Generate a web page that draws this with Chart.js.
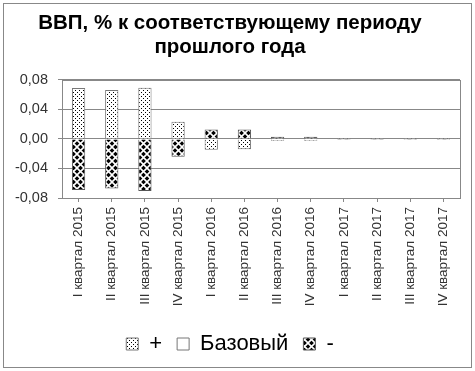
<!DOCTYPE html>
<html>
<head>
<meta charset="utf-8">
<script src="https://cdn.jsdelivr.net/npm/chart.js@4"></script>
<style>
  body { margin: 0; background: #fff; }
</style>
</head>
<body>
<canvas id="gdp-chart" width="475" height="371"></canvas>
<script>
// DATA
const categories = [
  "I квартал 2015", "II квартал 2015", "III квартал 2015", "IV квартал 2015",
  "I квартал 2016", "II квартал 2016", "III квартал 2016", "IV квартал 2016",
  "I квартал 2017", "II квартал 2017", "III квартал 2017", "IV квартал 2017"
];
const plusValues = [0.069, 0.0665, 0.0695, 0.0235, -0.0145, -0.014, -0.0025, -0.0025, 0.0015, 0.0015, 0.0015, 0.0015];
const baseValues = [0, 0, 0, 0, 0, 0, 0, 0, 0, 0, 0, 0];
const minusValues = [-0.069, -0.067, -0.0705, -0.024, 0.013, 0.013, 0.003, 0.003, -0.0015, -0.0015, -0.0015, -0.0015];
const yTicks = [-0.08, -0.04, 0, 0.04, 0.08];

const FONT = "'Liberation Sans', Arial, sans-serif";
const GREY = "#888";

// pattern fills (Excel-like hatching)
function makePattern(kind) {
  const c = document.createElement("canvas");
  const g = c.getContext("2d");
  if (kind === "dots") {
    c.width = 4; c.height = 4;
    g.fillStyle = "#fff";
    g.fillRect(0, 0, 4, 4);
    g.fillStyle = "#000";
    g.fillRect(1, 0, 1, 1);
    g.fillRect(3, 2, 1, 1);
  } else {
    c.width = 7; c.height = 7;
    g.fillStyle = "#000";
    g.fillRect(0, 0, 7, 7);
    g.strokeStyle = "#fff";
    g.lineWidth = 1.6;
    g.beginPath();
    g.moveTo(0, 0); g.lineTo(7, 7);
    g.moveTo(7, 0); g.lineTo(0, 7);
    g.stroke();
  }
  return g.createPattern(c, "repeat");
}

const dotFill = makePattern("dots");
const crossFill = makePattern("cross");

// white page + outer frame + plot frame
const frames = {
  id: "frames",
  beforeDraw(chart) {
    const ctx = chart.ctx;
    ctx.save();
    ctx.fillStyle = "#fff";
    ctx.fillRect(0, 0, chart.width, chart.height);
    ctx.strokeStyle = GREY;
    ctx.lineWidth = 1;
    ctx.strokeRect(3.5, 3.5, chart.width - 7, chart.height - 7);
    ctx.restore();
  },
  beforeDatasetsDraw(chart) {
    const a = chart.chartArea;
    const ctx = chart.ctx;
    ctx.save();
    ctx.strokeStyle = GREY;
    ctx.lineWidth = 1;
    ctx.strokeRect(Math.round(a.left) + 0.5, Math.round(a.top) + 0.5,
      Math.round(a.right - a.left), Math.round(a.bottom - a.top));
    ctx.restore();
  }
};

const ctx = document.getElementById("gdp-chart").getContext("2d");

const config = {
  type: "bar",
  data: {
    labels: categories,
    datasets: [
      { label: "+", data: plusValues, backgroundColor: dotFill, borderColor: "#777", borderWidth: 1 },
      { label: "Базовый", data: baseValues, backgroundColor: "#fff", borderColor: "#777", borderWidth: 1 },
      { label: "-", data: minusValues, backgroundColor: crossFill, borderColor: "#555", borderWidth: 1 }
    ]
  },
  options: {
    responsive: false,
    animation: false,
    categoryPercentage: 1,
    barPercentage: 0.4,
    layout: { padding: { left: 0, right: 15, top: 0, bottom: 6 } },
    plugins: {
      title: {
        display: true,
        text: ["ВВП, % к соответствующему периоду", "прошлого года"],
        color: "#000",
        font: { family: FONT, size: 20.5, weight: "bold", lineHeight: 1.17 },
        padding: { top: 11, bottom: 21 }
      },
      legend: {
        position: "bottom",
        labels: {
          color: "#000",
          boxWidth: 12,
          boxHeight: 12,
          padding: 15,
          font: { family: FONT, size: 22 }
        }
      },
      tooltip: { enabled: false }
    },
    scales: {
      x: {
        stacked: true,
        grid: { offset: false, drawOnChartArea: false, drawTicks: true, tickLength: 4, color: GREY },
        border: { color: GREY },
        ticks: {
          color: "#333",
          minRotation: 90,
          maxRotation: 90,
          padding: 5,
          font: { family: FONT, size: 13.5 }
        },
        afterFit(scale) { scale.height = 120; }
      },
      y: {
        stacked: true,
        min: -0.08,
        max: 0.08,
        afterBuildTicks(scale) { scale.ticks = yTicks.map(v => ({ value: v })); },
        grid: { color: GREY, tickLength: 4 },
        border: { color: GREY },
        ticks: {
          color: "#333",
          padding: 10,
          font: { family: FONT, size: 14.5 },
          callback: v => v.toFixed(2).replace(".", ",")
        },
        afterFit(scale) { scale.width = 62; }
      }
    }
  },
  plugins: [frames]
};

const gdpChart = new Chart(ctx, config);
</script>
</body>
</html>
